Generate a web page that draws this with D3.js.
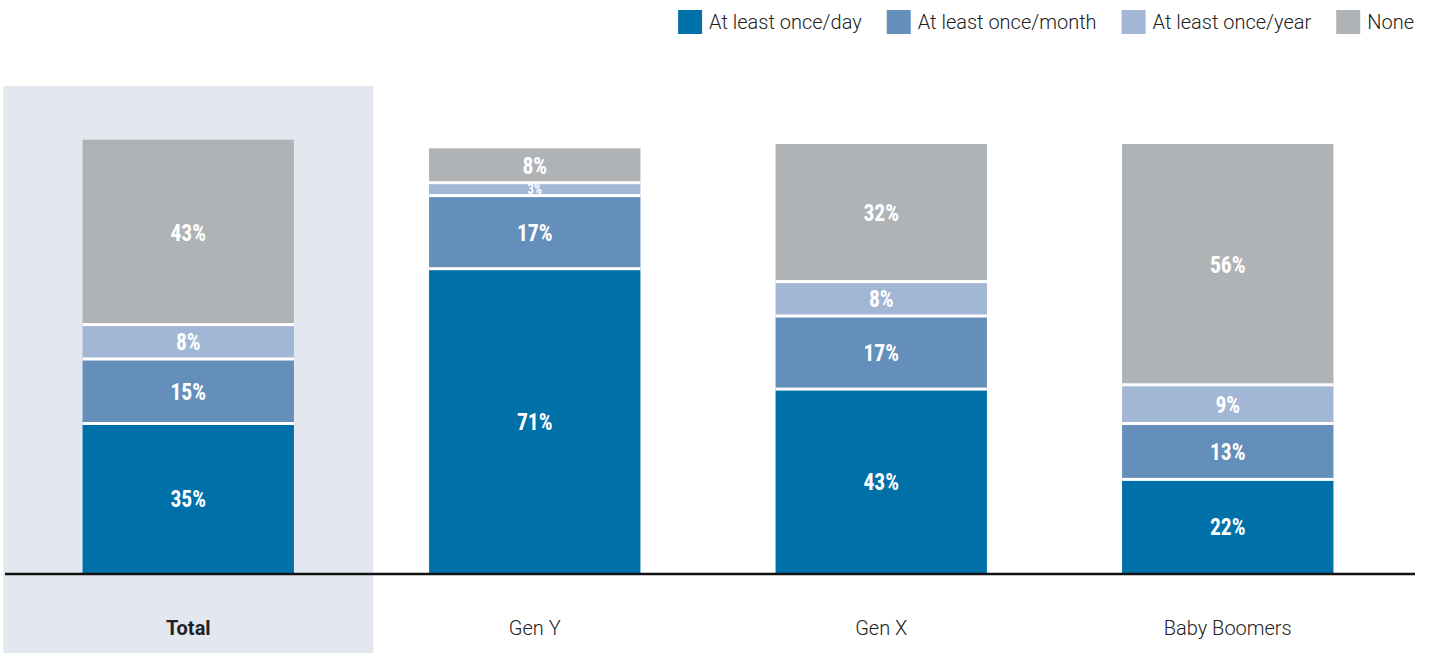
<!DOCTYPE html>
<html>
<head>
<meta charset="utf-8">
<script src="https://cdn.jsdelivr.net/npm/d3@7"></script>
<style>
  html, body { margin: 0; padding: 0; background: #fff; }
  svg { display: block; }
</style>
</head>
<body>
<svg id="chart" width="1433" height="653"></svg>
<script>
// Frequency groups by generation (percent of respondents)
const categories = ["Total", "Gen Y", "Gen X", "Baby Boomers"];
const seriesNames = ["At least once/day", "At least once/month", "At least once/year", "None"];
const dailyValues   = [35, 71, 43, 22];
const monthlyValues = [15, 17, 17, 13];
const yearlyValues  = [8, 3, 8, 9];
const noneValues    = [43, 8, 32, 56];
const seriesColors = ["#0070a8", "#648fba", "#a2b6d6", "#b0b3b6"];

const rows = categories.map((c, i) => ({
  category: c,
  [seriesNames[0]]: dailyValues[i],
  [seriesNames[1]]: monthlyValues[i],
  [seriesNames[2]]: yearlyValues[i],
  [seriesNames[3]]: noneValues[i]
}));

const svg = d3.select("#chart");
const W = 1433, H = 653;
const baseY = 574, topY = 144;

const x = d3.scaleBand()
  .domain(categories)
  .range([15, 1401])
  .paddingInner(0.39)
  .paddingOuter(0.195);

const y = d3.scaleLinear().domain([0, 100]).range([baseY, topY]);
const color = d3.scaleOrdinal().domain(seriesNames).range(seriesColors);

// Highlight panel behind the Total column
const cx0 = x("Total") + x.bandwidth() / 2;
svg.append("rect")
  .attr("x", cx0 - 185).attr("y", 86)
  .attr("width", 370).attr("height", H - 86)
  .attr("fill", "#e3e7f0");

const stack = d3.stack().keys(seriesNames);
const layers = stack(rows);

const gBars = svg.append("g");
layers.forEach(layer => {
  gBars.append("g")
    .attr("fill", color(layer.key))
    .selectAll("rect")
    .data(layer)
    .join("rect")
    .attr("x", d => x(d.data.category))
    .attr("width", x.bandwidth())
    .attr("y", d => y(d[1]))
    .attr("height", d => y(d[0]) - y(d[1]));
});
// White separators between stacked segments
layers.slice(0, -1).forEach(layer => {
  gBars.append("g").selectAll("rect")
    .data(layer)
    .join("rect")
    .attr("x", d => x(d.data.category))
    .attr("width", x.bandwidth())
    .attr("y", d => y(d[1]) - 1.5)
    .attr("height", 3)
    .attr("fill", "#fff");
});

// Value labels inside segments; thin segments get a smaller label
const gLab = svg.append("g")
  .attr("font-family", "'Liberation Sans Narrow', 'Roboto Condensed', 'Arial Narrow', sans-serif")
  .attr("font-weight", "bold")
  .attr("fill", "#fff")
  .attr("text-anchor", "middle");
layers.forEach(layer => {
  gLab.append("g").selectAll("text")
    .data(layer)
    .join("text")
    .attr("font-size", d => Math.min(24, Math.max(13, (y(d[0]) - y(d[1])) + 1)))
    .attr("transform", d => `translate(${x(d.data.category) + x.bandwidth() / 2},${(y(d[0]) + y(d[1])) / 2}) scale(0.9,1)`)
    .attr("dy", "0.36em")
    .text(d => (d[1] - d[0]) + "%");
});

// Baseline axis
const axis = d3.axisBottom(x).tickSize(0).tickPadding(47);
const gAxis = svg.append("g")
  .attr("transform", `translate(0,${baseY})`)
  .call(axis);
gAxis.select(".domain").remove();
gAxis.append("line")
  .attr("x1", 5).attr("x2", 1415)
  .attr("y1", 0).attr("y2", 0)
  .attr("stroke", "#111").attr("stroke-width", 2.5);
gAxis.selectAll(".tick text")
  .attr("font-family", "Roboto, 'Open Sans', sans-serif")
  .attr("font-size", 20)
  .attr("fill", "#222")
  .attr("font-weight", d => d === "Total" ? "bold" : 300);

// Legend, right-aligned to the chart edge
const legend = svg.append("g")
  .attr("font-family", "Roboto, 'Open Sans', sans-serif")
  .attr("font-size", 20)
  .attr("font-weight", 300)
  .attr("fill", "#222");
let lx = 1414;
seriesNames.slice().reverse().forEach(name => {
  const t = legend.append("text")
    .attr("y", 22).attr("dy", "0.35em")
    .text(name);
  const w = t.node().getComputedTextLength();
  lx -= w;
  t.attr("x", lx);
  legend.append("rect")
    .attr("x", lx - 31).attr("y", 10)
    .attr("width", 24).attr("height", 24)
    .attr("fill", color(name));
  lx -= 31 + 25;
});
</script>
</body>
</html>
